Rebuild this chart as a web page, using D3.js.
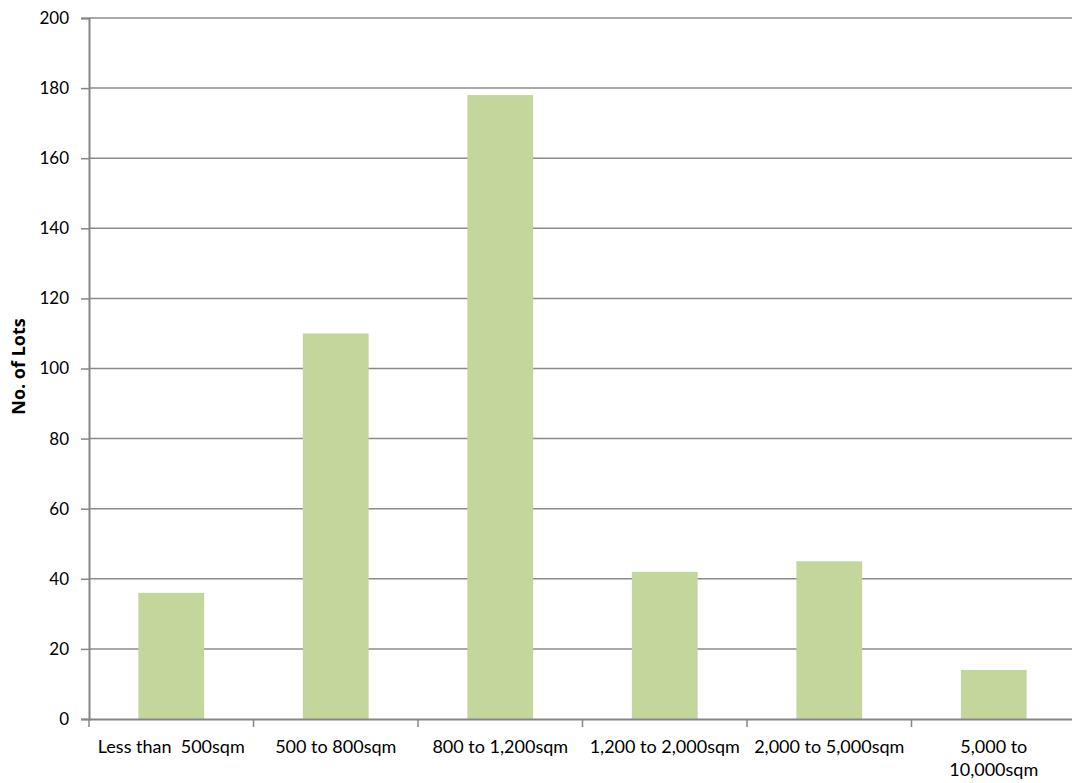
<!DOCTYPE html>
<html>
<head>
<meta charset="utf-8">
<script src="https://cdn.jsdelivr.net/npm/d3@7"></script>
<style>
  body { margin: 0; background: #fff; }
  text { font-family: Lato, "Open Sans", sans-serif; }
</style>
</head>
<body>
<div id="chart"></div>
<script>
// Data
var categories = ["Less than  500sqm", "500 to 800sqm", "800 to 1,200sqm", "1,200 to 2,000sqm", "2,000 to 5,000sqm", "5,000 to 10,000sqm"];
var lots = [36, 110, 178, 42, 45, 14];
var yTicks = [0, 20, 40, 60, 80, 100, 120, 140, 160, 180, 200];

function drawChart() {
  var w = 1072;
  var h = 783;
  var margin = {top: 18, right: -4, bottom: 64, left: 89};

  var xScale = d3.scaleBand()
    .domain(categories)
    .range([margin.left, w - margin.right])
    .paddingInner(0.6)
    .paddingOuter(0.3);

  var yScale = d3.scaleLinear()
    .domain([0, 200])
    .range([h - margin.bottom, margin.top]);

  var svg = d3.select("#chart")
    .append("svg")
    .attr("width", w)
    .attr("height", h);

  // gridlines
  svg.append("g")
    .selectAll("line")
    .data(yTicks.slice(1))
    .enter()
    .append("line")
    .attr("x1", margin.left)
    .attr("x2", w)
    .attr("y1", function (d) { return yScale(d); })
    .attr("y2", function (d) { return yScale(d); })
    .attr("stroke", "#8c8c8c")
    .attr("stroke-width", 1.5);

  // bars
  svg.append("g")
    .selectAll("rect")
    .data(lots)
    .enter()
    .append("rect")
    .attr("x", function (d, i) { return xScale(categories[i]); })
    .attr("y", function (d) { return yScale(d); })
    .attr("width", xScale.bandwidth())
    .attr("height", function (d) { return yScale(0) - yScale(d); })
    .attr("fill", "#c3d69b");

  // y axis
  var yAxis = svg.append("g")
    .attr("transform", "translate(" + margin.left + ",0)")
    .call(d3.axisLeft(yScale).tickValues(yTicks).tickSize(8).tickPadding(12));
  yAxis.select(".domain").attr("stroke", "#868686").attr("stroke-width", 2);
  yAxis.selectAll(".tick line").attr("stroke", "#868686").attr("stroke-width", 1.5);
  yAxis.selectAll(".tick text").attr("font-size", "17px").attr("fill", "#000")
    .style("font-family", "Lato, sans-serif");

  // x axis
  var xAxis = svg.append("g")
    .attr("transform", "translate(0," + (h - margin.bottom) + ")")
    .call(d3.axisBottom(xScale).tickSize(0).tickPadding(21));
  xAxis.select(".domain").attr("stroke", "#868686").attr("stroke-width", 2);
  xAxis.selectAll(".tick text").attr("font-size", "18px").attr("fill", "#000")
    .style("font-family", "Lato, sans-serif")
    .style("white-space", "pre");

  // wrap last label
  xAxis.selectAll(".tick text").each(function (d) {
    if (d === "5,000 to 10,000sqm") {
      var t = d3.select(this);
      t.text(null);
      t.append("tspan").attr("x", 0).attr("dy", "0.71em").text("5,000 to");
      t.append("tspan").attr("x", 0).attr("dy", "1.3em").text("10,000sqm");
      t.attr("dy", null);
    }
  });

  // category boundary ticks
  var step = xScale.step();
  var bounds = d3.range(categories.length + 1).map(function (i) {
    return margin.left + i * step;
  });
  svg.append("g")
    .selectAll("line")
    .data(bounds)
    .enter()
    .append("line")
    .attr("x1", function (d) { return d; })
    .attr("x2", function (d) { return d; })
    .attr("y1", yScale(0))
    .attr("y2", yScale(0) + 8)
    .attr("stroke", "#868686")
    .attr("stroke-width", 1.5);

  // y label
  svg.append("text")
    .attr("transform", "translate(25," + (yScale(100) - 2) + ") rotate(-90)")
    .attr("text-anchor", "middle")
    .attr("font-size", "18px")
    .attr("font-weight", "bold")
    .style("font-family", "'Open Sans', sans-serif")
    .text("No. of Lots");
}

window.onload = function () {
  drawChart();
};
</script>
</body>
</html>
